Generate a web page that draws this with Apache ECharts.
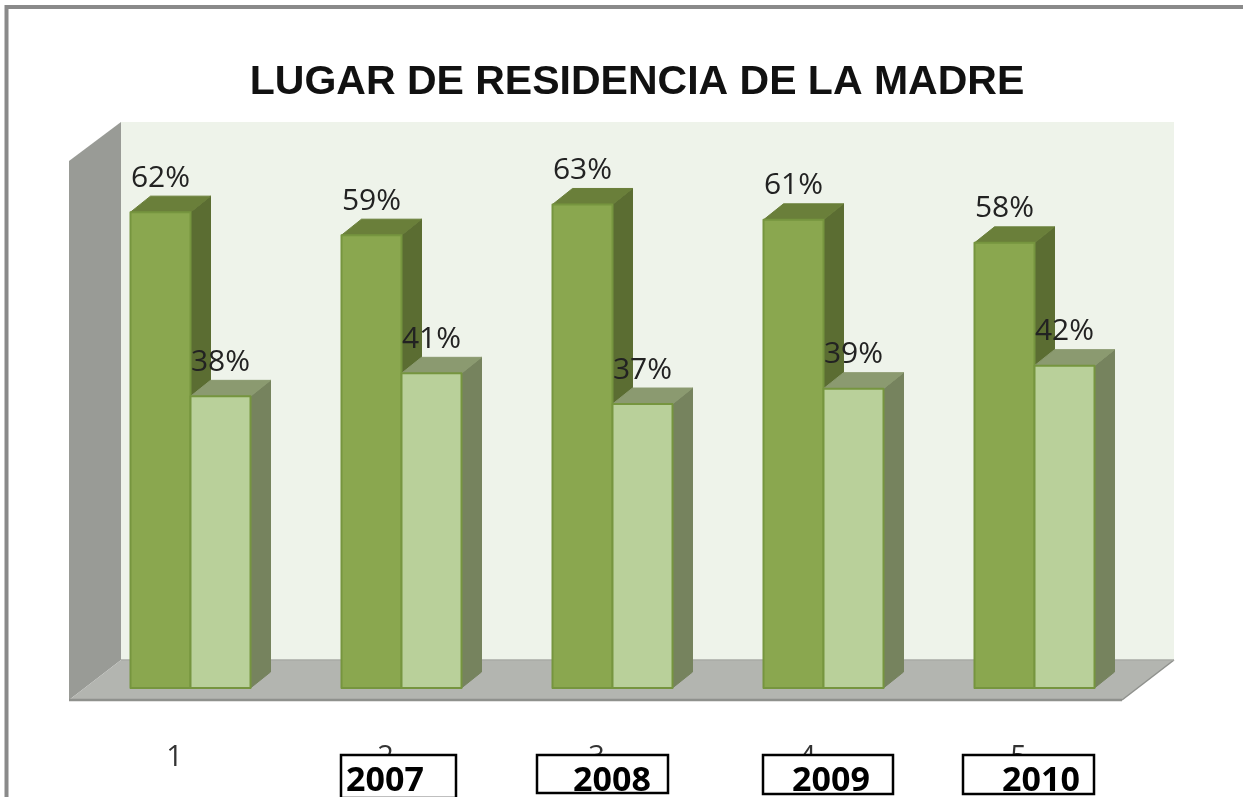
<!DOCTYPE html>
<html><head><meta charset="utf-8">
<style>html,body{margin:0;padding:0;background:#fff;overflow:hidden}#c{width:1243px;height:797px}</style>
<script src="https://cdn.jsdelivr.net/npm/echarts@6/dist/echarts.min.js"></script>
</head><body><div id="c"></div>
<script>
const titleText = 'LUGAR DE RESIDENCIA DE LA MADRE';
const categories = ['1','2','3','4','5'];
const darkValues = [62,59,63,61,58];
const lightValues = [38,41,37,39,42];
const yearLabels = ['2007','2008','2009','2010'];

const chart = echarts.init(document.getElementById('c'),null,{renderer:'canvas'});
const BAR_W = 60, DX = 20, DY = 16;
const LABEL_FONT = '30px "Open Sans"';

function wall(params, api){
  const cs = params.coordSys, base = cs.y + cs.height, l = cs.x, r = cs.x + cs.width;
  const backL = l+36, backR = r+34, backB = base-28, top = base-566;
  const frontL = l-16, frontR = r-18, frontB = base+12, sideTop = base-527;
  const poly = (pts,fill,stroke,lw)=>({type:'polygon',shape:{points:pts},style:{fill:fill,stroke:stroke||null,lineWidth:lw||0}});
  return {type:'group',children:[
    poly([[backL,top],[backR,top],[backR,backB],[backL,backB]],'#eef3ea'),
    poly([[frontL,sideTop],[backL,top],[backL,backB],[frontL,frontB]],'#999b96'),
    poly([[frontL,frontB],[backL,backB],[backR,backB],[frontR,frontB]],'#b3b5b0'),
    {type:'line',shape:{x1:frontL,y1:frontB,x2:frontR,y2:frontB},style:{stroke:'#8f918d',lineWidth:2.5}},
    {type:'line',shape:{x1:frontR,y1:frontB,x2:backR,y2:backB},style:{stroke:'#8f918d',lineWidth:1.5}},
    {type:'line',shape:{x1:backL,y1:backB,x2:backR,y2:backB},style:{stroke:'#a9aba6',lineWidth:1.5}}
  ]};
}
function bar3d(offset, front, side, topc, stroke){
  return function(params, api){
    const p = api.coord([api.value(0), api.value(1)]);
    const b = api.coord([api.value(0), 0]);
    const x0 = p[0]+offset, x1 = x0+BAR_W, yT = p[1], yB = b[1];
    const st = {stroke:stroke,lineWidth:2,lineJoin:'round'};
    return {type:'group',children:[
      {type:'polygon',shape:{points:[[x1,yT],[x1+DX,yT-DY],[x1+DX,yB-DY],[x1,yB]]},style:{fill:side,stroke:side,lineWidth:1}},
      {type:'polygon',shape:{points:[[x0,yT],[x0+DX,yT-DY],[x1+DX,yT-DY],[x1,yT]]},style:{fill:topc,stroke:topc,lineWidth:1}},
      {type:'rect',shape:{x:x0,y:yT,width:BAR_W,height:yB-yT},style:Object.assign({fill:front},st)},
      {type:'text',x:x0+BAR_W/2,y:yT-34,style:{text:api.value(1)+'%',font:LABEL_FONT,fill:'#222',align:'center',verticalAlign:'middle'},z2:50}
    ]};
  };
}
const graphic = [
  {type:'rect',shape:{x:6.5,y:7,width:1300,height:900},style:{fill:'transparent',stroke:'#8a8a8a',lineWidth:4},z:1},
];
const boxes = [[341,115,385,43],[537,131,612,38],[763,130,831,39],[963,131,1041,39]];
yearLabels.forEach((t,i)=>{
  const b = boxes[i];
  graphic.push({type:'rect',shape:{x:b[0],y:755,width:b[1],height:b[3]},style:{fill:'#fff',stroke:'#000',lineWidth:2.5},z:20});
  graphic.push({type:'text',x:b[2],y:781,style:{text:t,font:'bold 34px "Open Sans"',fill:'#000',align:'center',verticalAlign:'middle'},z:21});
});
chart.setOption({
  animation:false,
  backgroundColor:'#fff',
  title:{text:titleText,left:632,top:57,textAlign:'center',textStyle:{fontFamily:'"Liberation Sans"',fontSize:41,fontWeight:'bold',color:'#111'}},
  grid:{left:85,width:1055,top:74,bottom:109,containLabel:false},
  xAxis:{type:'category',data:categories,axisLine:{show:false},axisTick:{show:false},
    axisLabel:{margin:55,padding:[0,32,0,0],color:'#333',fontFamily:'"Open Sans"',fontSize:29,lineHeight:29}},
  yAxis:{type:'value',min:0,max:80,show:false,splitLine:{show:false}},
  graphic:graphic,
  series:[
    {type:'custom',silent:true,z:1,renderItem:wall,data:[[0,0]],encode:{x:0,y:1}},
    {type:'custom',z:2,renderItem:bar3d(-BAR_W,'#8aa74f','#5b6d32','#6a7f3a','#76953f'),data:darkValues.map((v,i)=>[i,v]),encode:{x:0,y:1}},
    {type:'custom',z:3,renderItem:bar3d(0,'#b9d09a','#76835e','#8b9a70','#76953f'),data:lightValues.map((v,i)=>[i,v]),encode:{x:0,y:1}}
  ]
});
</script></body></html>
